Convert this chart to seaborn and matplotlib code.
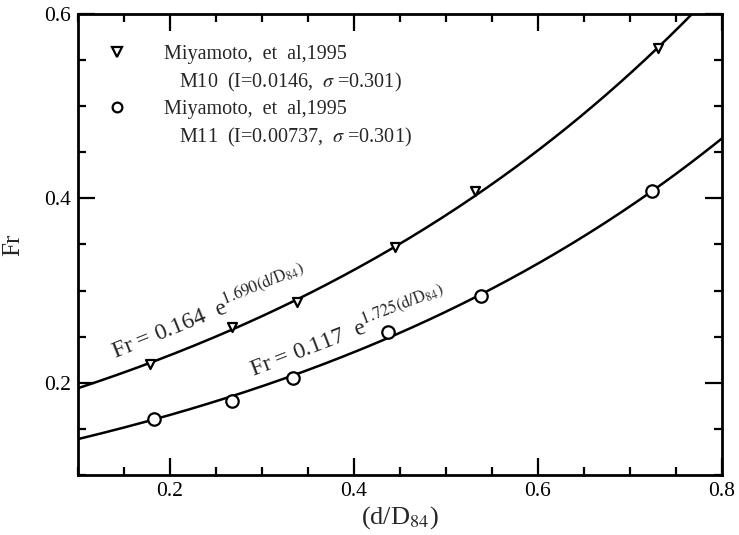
import numpy as np
import pandas as pd
import seaborn as sns
import matplotlib.pyplot as plt
from matplotlib.lines import Line2D
from matplotlib.ticker import MultipleLocator

m10_x = [0.178, 0.267, 0.338, 0.445, 0.531, 0.730]
m10_fr = [0.220, 0.261, 0.288, 0.347, 0.408, 0.563]
m11_x = [0.183, 0.267, 0.334, 0.437, 0.538, 0.724]
m11_fr = [0.161, 0.180, 0.205, 0.255, 0.294, 0.408]

# fitted curves printed on the chart: Fr = a * exp(b * d/D84)
m10_fit = (0.164, 1.690)
m11_fit = (0.117, 1.725)

sns.set_theme(style='ticks')
plt.rcParams['font.family'] = ['Liberation Serif', 'DejaVu Serif']
plt.rcParams['mathtext.fontset'] = 'stix'

fig = plt.figure(figsize=(7.39, 5.35), dpi=100)
ax = fig.add_axes([0.1055, 0.112, 0.8715, 0.862])

x_fit = np.linspace(0.1, 0.8, 200)
fits = pd.DataFrame({
    'x': np.concatenate([x_fit, x_fit]),
    'fr': np.concatenate([m10_fit[0] * np.exp(m10_fit[1] * x_fit),
                          m11_fit[0] * np.exp(m11_fit[1] * x_fit)]),
    'run': ['M10'] * len(x_fit) + ['M11'] * len(x_fit),
})
sns.lineplot(data=fits, x='x', y='fr', units='run', estimator=None,
             color='black', lw=1.8, ax=ax, legend=False)

sns.scatterplot(x=m10_x, y=m10_fr, marker='v', s=42, facecolor='white',
                edgecolor='black', linewidth=1.6, zorder=3, ax=ax)
sns.scatterplot(x=m11_x, y=m11_fr, marker='o', s=80, facecolor='white',
                edgecolor='black', linewidth=1.6, zorder=3, ax=ax)

ax.set_xlim(0.1, 0.8)
ax.set_ylim(0.1, 0.6)
ax.set_xticks([0.2, 0.4, 0.6, 0.8])
ax.set_yticks([0.2, 0.4, 0.6])
ax.xaxis.set_minor_locator(MultipleLocator(0.05))
ax.yaxis.set_minor_locator(MultipleLocator(0.05))
ax.tick_params(which='both', direction='in', top=True, right=True,
               width=1.6, labelsize=15.5, colors='black')
ax.tick_params(which='major', length=12, pad=5)
ax.tick_params(which='minor', length=6)
for sp in ax.spines.values():
    sp.set_visible(True)
    sp.set_linewidth(2)
    sp.set_color('black')

ax.set_xlabel(r'(d/D$_{84}$)', fontsize=19, labelpad=2)
ax.set_ylabel('Fr', fontsize=18, labelpad=14)

ax.text(0.140, 0.226, r'Fr = 0.164  e$^{\mathrm{1.690(d/D_{84})}}$', fontsize=17,
        rotation=22, rotation_mode='anchor', ha='left', va='baseline')
ax.text(0.290, 0.207, r'Fr = 0.117  e$^{\mathrm{1.725(d/D_{84})}}$', fontsize=17,
        rotation=21, rotation_mode='anchor', ha='left', va='baseline')

handles = [
    Line2D([], [], ls='none', marker='v', mfc='white', mec='black', mew=1.6, ms=7),
    Line2D([], [], ls='none'),
    Line2D([], [], ls='none', marker='o', mfc='white', mec='black', mew=1.6, ms=7),
    Line2D([], [], ls='none'),
]
labels = [
    'Miyamoto,  et  al,1995',
    r'   M10  (I=0.0146,  $\sigma$ =0.301)',
    'Miyamoto,  et  al,1995',
    r'   M11  (I=0.00737,  $\sigma$ =0.301)',
]
ax.legend(handles, labels, loc='upper left', bbox_to_anchor=(0.03, 0.95),
          frameon=False, fontsize=14.5, handlelength=1.2, handletextpad=1.7,
          labelspacing=0.32, borderaxespad=0)

fig.savefig('out.png', dpi=100)
